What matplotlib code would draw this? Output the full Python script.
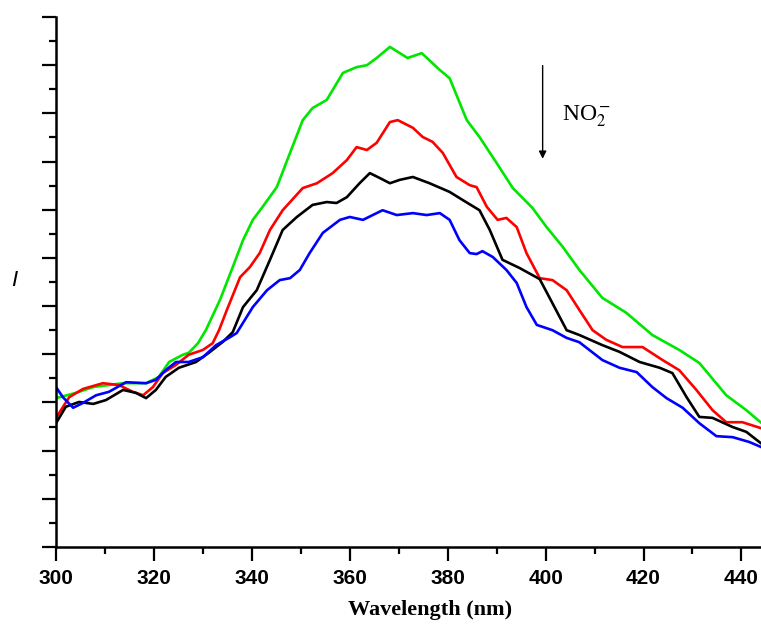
import matplotlib.pyplot as plt
from matplotlib.ticker import MultipleLocator

# Data (wavelength in nm, intensity in arbitrary units)
green_wl = [300.0, 304.1, 307.6, 313.7, 318.4, 321.0, 323.1, 325.9, 327.1, 329.0, 330.6,
            333.5, 336.1, 338.2, 340.2, 342.2, 345.1, 347.8, 350.4, 352.4, 355.3, 358.6,
            361.4, 363.5, 365.5, 368.2, 371.8, 374.7, 378.4, 380.4, 383.9, 386.5, 390.0,
            393.3, 397.3, 400.2, 403.5, 406.9, 411.6, 416.5, 421.8, 427.3, 431.4, 436.9,
            441.0, 443.9]
green_i = [3.09, 3.20, 3.32, 3.40, 3.40, 3.53, 3.84, 3.99, 4.03, 4.23, 4.50,
           5.13, 5.81, 6.37, 6.79, 7.06, 7.47, 8.18, 8.86, 9.11, 9.28, 9.84,
           9.96, 10.00, 10.15, 10.38, 10.15, 10.25, 9.90, 9.73, 8.86, 8.51, 7.97,
           7.45, 7.04, 6.64, 6.23, 5.75, 5.17, 4.86, 4.40, 4.09, 3.82, 3.15,
           2.84, 2.59]

red_wl = [300.0, 302.7, 305.5, 309.6, 312.9, 315.7, 317.8, 319.8, 321.8, 324.5, 327.1,
          330.0, 332.0, 333.3, 334.9, 337.6, 339.6, 341.6, 343.7, 346.3, 350.4, 353.3,
          356.5, 359.4, 361.4, 363.5, 365.5, 368.2, 369.8, 372.9, 374.9, 376.9, 379.0,
          381.8, 384.5, 385.9, 388.0, 390.2, 392.0, 394.1, 396.1, 398.8, 401.4, 404.3,
          406.9, 409.6, 412.4, 415.7, 419.8, 423.9, 427.3, 430.8, 434.1, 436.9, 440.2,
          443.9]
red_i = [2.68, 3.11, 3.28, 3.40, 3.36, 3.22, 3.15, 3.32, 3.61, 3.78, 3.99,
         4.09, 4.23, 4.50, 4.92, 5.60, 5.81, 6.10, 6.58, 6.99, 7.45, 7.55,
         7.76, 8.03, 8.30, 8.24, 8.39, 8.82, 8.86, 8.70, 8.51, 8.41, 8.18,
         7.68, 7.51, 7.47, 7.06, 6.79, 6.83, 6.64, 6.10, 5.58, 5.54, 5.33,
         4.92, 4.50, 4.30, 4.15, 4.15, 3.88, 3.67, 3.26, 2.84, 2.59, 2.59,
         2.47]

black_wl = [300.0, 302.0, 304.7, 307.6, 310.2, 313.7, 316.3, 318.4, 320.4, 322.4, 325.1,
            328.6, 331.2, 334.1, 336.1, 338.2, 341.0, 343.7, 346.3, 349.2, 352.4, 355.3,
            357.3, 359.4, 362.0, 364.1, 366.1, 368.2, 370.2, 372.9, 376.3, 380.4, 383.1,
            386.5, 388.6, 391.2, 394.7, 398.8, 401.4, 404.3, 406.9, 411.6, 415.1, 419.2,
            423.3, 425.9, 428.8, 431.4, 434.1, 438.2, 441.0, 443.9]
black_i = [2.57, 2.91, 3.01, 2.97, 3.05, 3.26, 3.20, 3.09, 3.26, 3.53, 3.72,
           3.84, 4.03, 4.26, 4.46, 4.98, 5.33, 5.96, 6.58, 6.85, 7.10, 7.16,
           7.14, 7.26, 7.55, 7.76, 7.66, 7.55, 7.62, 7.68, 7.55, 7.37, 7.20,
           6.99, 6.58, 5.96, 5.79, 5.56, 5.06, 4.50, 4.40, 4.19, 4.05, 3.84,
           3.72, 3.61, 3.11, 2.70, 2.68, 2.49, 2.39, 2.16]

blue_wl = [300.0, 301.4, 303.5, 305.5, 308.2, 310.8, 314.3, 318.4, 320.4, 322.4, 324.5,
           327.1, 330.0, 332.7, 335.3, 336.9, 340.2, 343.1, 345.7, 347.8, 349.8, 351.8,
           354.5, 358.0, 360.0, 362.7, 364.7, 366.7, 369.6, 372.9, 375.7, 378.4, 380.4,
           382.4, 384.5, 385.9, 387.1, 389.2, 392.0, 394.1, 396.1, 398.2, 401.4, 404.3,
           406.9, 411.6, 415.1, 418.6, 421.8, 424.7, 428.0, 431.4, 434.9, 438.2, 441.6,
           443.9]
blue_i = [3.32, 3.11, 2.89, 2.99, 3.15, 3.22, 3.42, 3.40, 3.47, 3.67, 3.84,
          3.84, 3.94, 4.19, 4.34, 4.44, 4.98, 5.33, 5.54, 5.58, 5.75, 6.10,
          6.52, 6.79, 6.85, 6.79, 6.89, 6.99, 6.89, 6.93, 6.89, 6.93, 6.79,
          6.37, 6.10, 6.08, 6.14, 6.02, 5.75, 5.48, 4.98, 4.61, 4.50, 4.34,
          4.25, 3.88, 3.72, 3.63, 3.32, 3.09, 2.89, 2.57, 2.30, 2.28, 2.18,
          2.08]

xticks = [300, 320, 340, 360, 380, 400, 420, 440]

plt.rcParams['mathtext.fontset'] = 'stix'

fig = plt.figure(figsize=(7.61, 6.26), dpi=100)
ax = fig.add_axes([0.0736, 0.1262, 0.9264, 0.8466])

for wl, inten, col in [(green_wl, green_i, '#00e600'), (red_wl, red_i, '#ff0000'),
                       (black_wl, black_i, 'black'), (blue_wl, blue_i, '#0000ff')]:
    ax.plot(wl, inten, color=col, lw=1.9, solid_joinstyle='round')

ax.set_xlim(300, 444)
ax.set_ylim(0, 11)
ax.set_xticks(xticks)
ax.xaxis.set_minor_locator(MultipleLocator(10))
ax.yaxis.set_major_locator(MultipleLocator(1))
ax.yaxis.set_minor_locator(MultipleLocator(0.5))
ax.set_yticklabels([])

ax.spines['top'].set_visible(False)
ax.spines['right'].set_visible(False)
ax.spines['left'].set_linewidth(1.8)
ax.spines['bottom'].set_linewidth(1.8)
ax.tick_params(which='major', direction='out', length=10, width=1.6)
ax.tick_params(which='minor', direction='out', length=5, width=1.6)
ax.tick_params(axis='x', pad=6)
for lab in ax.get_xticklabels():
    lab.set_fontfamily('Liberation Sans')
    lab.set_fontweight('bold')
    lab.set_fontsize(15)

fig.text(430 / 761, 1 - 610 / 626, 'Wavelength (nm)', ha='center', va='center',
         fontfamily='Liberation Serif', fontweight='bold', fontsize=16)
fig.text(14 / 761, 1 - 280 / 626, 'I', ha='center', va='center',
         fontfamily='Liberation Sans', fontstyle='italic', fontsize=16)

# arrow showing nitrite addition
ax.annotate('', xy=(399.4, 8.0), xytext=(399.4, 10.05),
            arrowprops=dict(arrowstyle='-|>', color='black', lw=1.0,
                            mutation_scale=11))
ax.text(403.4, 8.95, r'NO$_2^{\,\mathrm{-}}$', fontfamily='Liberation Serif', fontsize=17,
        ha='left', va='center')

fig.savefig('out.png', dpi=100)
